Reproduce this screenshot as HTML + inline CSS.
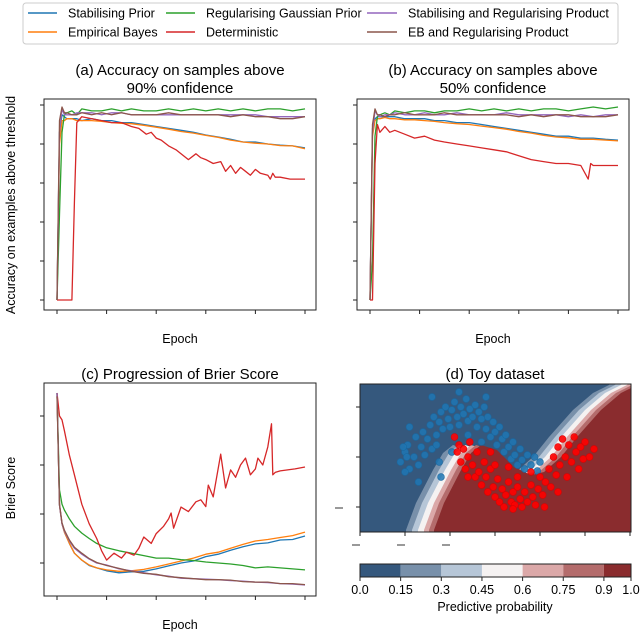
<!DOCTYPE html>
<html><head><meta charset="utf-8"><style>
body{margin:0;background:#fff;}
svg{display:block;font-family:"Liberation Sans","DejaVu Sans",sans-serif;}
</style></head><body>
<svg id="fig" width="640" height="633" viewBox="0 0 640 633" xmlns="http://www.w3.org/2000/svg">
<g font-size="12.5">
<rect x="23" y="3" width="595" height="41" rx="3" fill="#fff" stroke="#ccc"/>
<g><line x1="28" y1="13" x2="57" y2="13" stroke="#1f77b4" stroke-width="1.5"/><text x="68" y="17.5">Stabilising Prior</text></g>
<g><line x1="28" y1="32" x2="57" y2="32" stroke="#ff7f0e" stroke-width="1.5"/><text x="68" y="36.5">Empirical Bayes</text></g>
<g><line x1="166" y1="13" x2="195" y2="13" stroke="#2ca02c" stroke-width="1.5"/><text x="206" y="17.5">Regularising Gaussian Prior</text></g>
<g><line x1="166" y1="32" x2="195" y2="32" stroke="#d62728" stroke-width="1.5"/><text x="206" y="36.5">Deterministic</text></g>
<g><line x1="367" y1="13" x2="397" y2="13" stroke="#9467bd" stroke-width="1.5"/><text x="408" y="17.5">Stabilising and Regularising Product</text></g>
<g><line x1="367" y1="32" x2="397" y2="32" stroke="#8c564b" stroke-width="1.5"/><text x="408" y="36.5">EB and Regularising Product</text></g>
</g>
<g font-size="15" text-anchor="middle">
<text x="180" y="75">(a) Accuracy on samples above</text>
<text x="180" y="93">90% confidence</text>
<text x="493" y="75">(b) Accuracy on samples above</text>
<text x="493" y="93">50% confidence</text>
<text x="180" y="379">(c) Progression of Brier Score</text>
<text x="495" y="379">(d) Toy dataset</text>
</g>
<g font-size="12.5" text-anchor="middle">
<text x="180" y="343">Epoch</text>
<text x="493" y="343">Epoch</text>
<text x="180" y="629">Epoch</text>
<text transform="translate(15,205) rotate(-90)">Accuracy on examples above threshold</text>
<text transform="translate(15,488) rotate(-90)">Brier Score</text>
</g>
<g id="plots"></g>
</svg>
<script>
// ---- data: panels a/b (accuracy) ----
const epochsA = [0,1,2,3,4,6,8,10,14,18,22,26,30,35,40,45,50,55,60,65,70,75,80,85,90,95,100];
const accA_blue   = [.5,.93,.975,.97,.965,.965,.965,.96,.965,.96,.96,.955,.955,.95,.945,.94,.935,.93,.923,.918,.912,.905,.905,.9,.897,.895,.89];
const accA_orange = [.5,.9,.96,.96,.965,.965,.96,.96,.96,.958,.955,.953,.952,.948,.943,.938,.932,.928,.922,.917,.91,.905,.902,.9,.896,.895,.888];
const accA_green  = [.5,.72,.93,.975,.98,.985,.975,.99,.985,.985,.99,.985,.99,.985,.985,.99,.985,.99,.985,.99,.985,.99,.985,.99,.99,.985,.99];
const accA_purple = [.5,.93,.99,.975,.975,.975,.98,.98,.98,.975,.98,.98,.975,.975,.975,.975,.975,.975,.975,.975,.975,.975,.975,.97,.97,.97,.97];
const accA_brown  = [.5,.96,.995,.98,.98,.975,.975,.98,.975,.98,.975,.98,.975,.975,.975,.98,.975,.975,.975,.975,.97,.975,.97,.97,.965,.965,.97];
const epochsA_red = [0,2,4,6,7,8,10,14,18,22,26,30,33,36,38,40,42,45,48,50,53,56,58,60,63,66,68,70,72,74,76,78,80,82,85,86,87,88,90,94,98,100];
const accA_red    = [.5,.5,.5,.5,.75,.955,.97,.965,.96,.955,.955,.945,.94,.925,.93,.915,.91,.895,.885,.875,.86,.875,.865,.86,.85,.855,.83,.845,.825,.84,.83,.82,.835,.825,.82,.81,.825,.815,.815,.81,.81,.81];
const accB_blue   = [.5,.94,.965,.97,.97,.97,.97,.97,.965,.965,.965,.96,.96,.955,.955,.95,.945,.94,.935,.93,.925,.92,.92,.915,.915,.912,.91];
const accB_orange = [.5,.92,.96,.965,.965,.968,.965,.965,.962,.962,.96,.958,.955,.952,.95,.946,.942,.938,.932,.928,.922,.918,.916,.912,.912,.91,.908];
const accB_green  = [.5,.6,.92,.97,.975,.98,.975,.985,.98,.985,.985,.98,.985,.985,.99,.985,.99,.985,.99,.985,.99,.99,.985,.99,.995,.99,.995];
const accB_purple = [.5,.93,.985,.975,.97,.975,.975,.98,.975,.975,.98,.975,.975,.98,.975,.975,.975,.98,.975,.975,.975,.975,.97,.975,.97,.975,.975];
const accB_brown  = [.5,.95,.99,.975,.975,.97,.975,.975,.98,.975,.975,.975,.98,.975,.975,.975,.975,.975,.97,.975,.97,.975,.975,.97,.97,.97,.975];
const epochsB_red = [0,1,2,3,4,6,8,10,14,18,22,26,30,35,40,45,50,55,60,65,70,75,80,85,88,89,90,95,100];
const accB_red    = [.5,.5,.85,.95,.93,.945,.93,.935,.925,.915,.92,.91,.905,.9,.895,.89,.885,.88,.87,.86,.855,.85,.85,.845,.81,.85,.845,.845,.845];
const accTicks = [.5,.6,.7,.8,.9,1.0];
const epochTicks = [0,20,40,60,80,100];
// ---- data: panel c (Brier) ----
const epochsC = [0,1,2,3,5,7,10,13,16,20,25,30,35,40,45,50,55,60,65,70,75,80,85,90,95,100];
const brier_blue   = [.447,.218,.18,.163,.14,.12,.106,.095,.09,.084,.08,.082,.083,.088,.094,.1,.104,.113,.118,.126,.133,.139,.141,.147,.148,.155];
const brier_orange = [.447,.218,.18,.163,.14,.12,.106,.096,.09,.086,.083,.084,.087,.092,.098,.104,.11,.118,.122,.13,.138,.145,.148,.152,.156,.163];
const brier_green  = [.447,.249,.22,.208,.19,.175,.161,.15,.14,.131,.125,.12,.115,.11,.11,.107,.105,.102,.1,.098,.095,.09,.092,.09,.088,.086];
const brier_purple = [.447,.218,.18,.165,.145,.13,.118,.108,.1,.096,.088,.084,.08,.076,.073,.069,.068,.067,.066,.064,.063,.061,.06,.058,.057,.055];
const brier_brown  = [.44,.22,.182,.167,.147,.132,.12,.109,.101,.095,.089,.083,.079,.077,.072,.07,.068,.066,.066,.065,.062,.061,.061,.058,.058,.056];
const epochsC_red = [0,1,2,3,5,7,10,13,16,18,20,23,26,28,31,33,35,38,40,43,45,46,47,50,53,56,58,60,61,63,66,68,70,72,74,76,78,80,81,83,85,86.5,87,88,90,93,96,100];
const brier_red   = [.447,.4,.392,.37,.32,.28,.22,.18,.15,.125,.106,.12,.11,.122,.116,.13,.153,.14,.16,.175,.19,.202,.171,.214,.205,.225,.229,.215,.259,.235,.322,.253,.29,.275,.3,.314,.28,.292,.314,.3,.337,.384,.28,.285,.288,.29,.292,.296];
const brierTicks = [.1,.2,.3,.4];
// ---- data: panel d (toy) ----
const blueX = [-1.05,-1,-.95,-.97,-.9,-.88,-.85,-.82,-.8,-.78,-.75,-.72,-.7,-.68,-.65,-.62,-.6,-.58,-.55,-.52,-.5,-.48,-.45,-.42,-.4,-.38,-.35,-.32,-.3,-.28,-.25,-.22,-.2,-.18,-.15,-.12,-.1,-.08,-.05,-.02,0,.02,.05,.08,.1,.12,.15,.18,.2,.22,.25,.28,.3,.33,.36,.4,.44,.47,.5,-.6,-.85,-1.0,-.98,-1.02,-.95,-.7,-.4,-.1,-.65,-.45,-.3,-.15,-.62,-.48];
const blueY = [.45,.55,.38,.62,.5,.7,.42,.6,.75,.52,.68,.82,.58,.9,.72,.85,.95,.78,1,.88,.8,.97,1.05,.9,.82,1,.93,1.08,.86,.98,.9,1.02,.8,.95,.88,1,.78,.9,.7,.85,.75,.62,.8,.68,.55,.72,.6,.48,.65,.52,.42,.58,.47,.38,.52,.42,.5,.36,.45,.3,.25,.35,.5,.6,.8,1.1,1.15,1.1,.62,.7,.72,.65,.45,.55];
const redX = [-.45,-.42,-.4,-.38,-.35,-.33,-.3,-.28,-.25,-.22,-.2,-.18,-.15,-.12,-.1,-.08,-.05,-.02,0,.03,.05,.08,.1,.12,.15,.18,.2,.22,.25,.28,.3,.33,.36,.4,.42,.45,.48,.5,.53,.56,.6,.62,.65,.68,.7,.72,.75,.78,.8,.82,.85,.88,.9,.93,.95,.98,1,1.05,1.1,-.3,0,.25,.4,.7,.2,.55,-.05,.15];
const redY = [.7,.55,.62,.45,.58,.38,.5,.65,.42,.3,.55,.35,.22,.45,.3,.15,.38,.2,.1,.28,.05,.18,0,.12,.25,.05,.15,.02,.2,.08,0,.15,.05,.22,.1,.02,.18,.3,.12,.25,.38,.2,.5,.32,.6,.42,.68,.5,.3,.62,.45,.7,.55,.38,.6,.48,.65,.5,.58,.3,.42,.3,.35,.15,-.02,0,.55,.4];
const cbBounds = [0,.15,.3,.45,.6,.75,.9,1.0];
const cbLabels = ["0.0","0.15","0.3","0.45","0.6","0.75","0.9","1.0"];

const NS="http://www.w3.org/2000/svg";
const root=document.getElementById('plots');
function mk(tag,attrs,parent){const e=document.createElementNS(NS,tag);for(const k in attrs)e.setAttribute(k,attrs[k]);(parent||root).appendChild(e);return e;}
const COL={blue:"#1f77b4",orange:"#ff7f0e",green:"#2ca02c",red:"#d62728",purple:"#9467bd",brown:"#8c564b"};

function panel(name,box,x0px,yFn,yTicks,series){
  const g=mk('g',{});
  
  
  const xFn=e=>x0px+e*2.48;
  const cid='clip-'+name;
  const cp=mk('clipPath',{id:cid},g);mk('rect',{x:box.x0,y:box.y0,width:box.x1-box.x0,height:box.y1-box.y0},cp);
  const lg=mk('g',{'clip-path':'url(#'+cid+')'},g);
  series.forEach(s=>{
    const d=s.x.map((e,i)=>(i?'L':'M')+xFn(e).toFixed(1)+','+yFn(s.y[i]).toFixed(1)).join('');
    const p=mk('path',{d:d,fill:'none',stroke:COL[s.c],'stroke-width':1.3,'stroke-linejoin':'round'},lg);
    
    
  });
  const fr=mk('rect',{x:box.x0,y:box.y0,width:box.x1-box.x0,height:box.y1-box.y0,fill:'none',stroke:'#222','stroke-width':1},g);
  
  
  epochTicks.forEach(t=>{const l=mk('line',{x1:xFn(t),x2:xFn(t),y1:box.y1,y2:box.y1+4,stroke:'#222'},g);
    
    });
  yTicks.forEach(t=>{const l=mk('line',{x1:box.x0-4,x2:box.x0,y1:yFn(t),y2:yFn(t),stroke:'#222'},g);
    
    });
}
const yAcc=v=>105+(1-v)*390;
panel('panel-a',{x0:44,x1:316,y0:99,y1:310},57,yAcc,accTicks,[
 {x:epochsA,y:accA_blue,c:'blue'},{x:epochsA,y:accA_orange,c:'orange'},{x:epochsA,y:accA_green,c:'green'},
 {x:epochsA_red,y:accA_red,c:'red'},{x:epochsA,y:accA_purple,c:'purple'},{x:epochsA,y:accA_brown,c:'brown'}]);
panel('panel-b',{x0:357,x1:629,y0:99,y1:310},370,yAcc,accTicks,[
 {x:epochsA,y:accB_blue,c:'blue'},{x:epochsA,y:accB_orange,c:'orange'},{x:epochsA,y:accB_green,c:'green'},
 {x:epochsB_red,y:accB_red,c:'red'},{x:epochsA,y:accB_purple,c:'purple'},{x:epochsA,y:accB_brown,c:'brown'}]);
const yBr=v=>563-(v-0.1)*490;
panel('panel-c',{x0:44,x1:316,y0:383,y1:596},57,yBr,brierTicks,[
 {x:epochsC,y:brier_blue,c:'blue'},{x:epochsC,y:brier_orange,c:'orange'},{x:epochsC,y:brier_green,c:'green'},
 {x:epochsC_red,y:brier_red,c:'red'},{x:epochsC,y:brier_purple,c:'purple'},{x:epochsC,y:brier_brown,c:'brown'}]);

// panel d
const cbColors=["#35587d","#7890aa","#b6c6d7","#f5f2f2","#dba8a8","#b46c6c","#8a2c2e"];
const gd=mk('g',{});


const cpd=mk('clipPath',{id:'clip-d'},gd);mk('rect',{x:360,y:384,width:271,height:148},cpd);
const cg=mk('g',{'clip-path':'url(#clip-d)'},gd);
mk('rect',{x:360,y:384,width:271,height:148,fill:cbColors[0]},cg);
const boundary=[[420,540],[420,530],[430,503],[447,470],[457,453],[467,445],[483,450],[500,467],[517,475],[530,472],[547,457],[563,437],[587,410],[607,393],[623,385],[630,378]];
const offs=[-14,-8,-2,4,9,14];
offs.forEach((o,i)=>{
  const pts=boundary.map(p=>(p[0]+o)+','+p[1]);
  pts.push('700,378','700,560');
  const pg=mk('polygon',{points:pts.join(' '),fill:cbColors[i+1]},cg);
  
  
});
const xD=v=>360+(v+1.5)*90, yD=v=>507-v*100;
blueX.forEach((x,i)=>{const c=mk('circle',{cx:xD(x),cy:yD(blueY[i]),r:3.4,fill:'#1f77b4','fill-opacity':.85,stroke:'#1a68a0','stroke-width':.6},cg);
  
  });
redX.forEach((x,i)=>{const c=mk('circle',{cx:xD(x),cy:yD(redY[i]),r:3.4,fill:'#ff0000','fill-opacity':.9,stroke:'#d00','stroke-width':.6},cg);
  
  });
const fd=mk('rect',{x:360,y:384,width:271,height:148,fill:'none',stroke:'#222'},gd);


[-1.5,-1,-.5,0,.5,1,1.5].forEach(t=>{const l=mk('line',{x1:xD(t),x2:xD(t),y1:532,y2:536,stroke:'#222'},gd);
  
  });
[0,.5,1].forEach(t=>{const l=mk('line',{x1:356,x2:360,y1:yD(t),y2:yD(t),stroke:'#222'},gd);
  
  });
[[352,545],[397,545],[442,545]].forEach(p=>{const l=mk('line',{x1:p[0],x2:p[0]+8,y1:p[1],y2:p[1],stroke:'#555','stroke-width':1.2},gd);
  
  });
{const l=mk('line',{x1:335,x2:343,y1:508,y2:508,stroke:'#555','stroke-width':1.2},gd);
  
  }
// colorbar
const cbx=v=>360+v*271;
const cb=mk('g',{},gd);


for(let i=0;i<cbColors.length;i++){
  const r=mk('rect',{x:cbx(cbBounds[i]),y:564,width:cbx(cbBounds[i+1])-cbx(cbBounds[i]),height:13,fill:cbColors[i]},cb);
  
  
}
mk('rect',{x:360,y:564,width:271,height:13,fill:'none',stroke:'#222'},cb);
cbBounds.forEach((b,i)=>{
  mk('line',{x1:cbx(b),x2:cbx(b),y1:577,y2:581,stroke:'#222'},cb);
  const t=mk('text',{x:cbx(b),y:594,'text-anchor':'middle','font-size':12.5},cb);
  t.textContent=cbLabels[i];
  
  
});
const cbt=mk('text',{x:495,y:611,'text-anchor':'middle','font-size':12.5},cb);
cbt.textContent='Predictive probability';


</script>
</body></html>
